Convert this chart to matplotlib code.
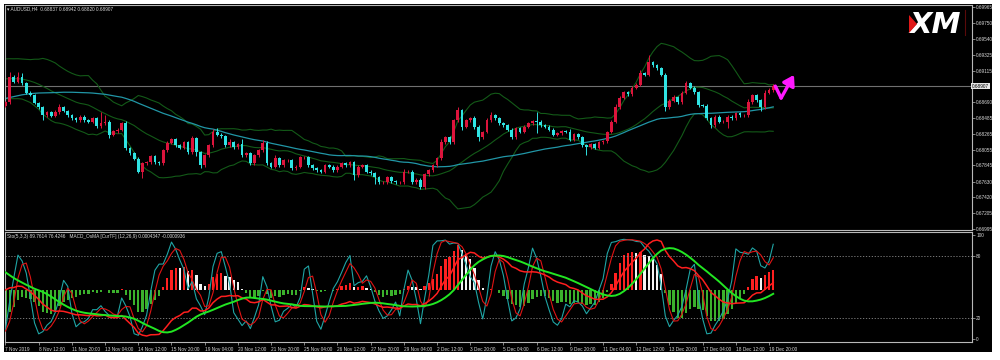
import numpy as np
import pandas as pd
import matplotlib
matplotlib.use("Agg")
import matplotlib.pyplot as plt
from matplotlib.patches import Rectangle, Polygon
from matplotlib.lines import Line2D

# ---------------- data ----------------
symbol = "AUDUSD,H4"
header_ohlc = ["0.68837", "0.68942", "0.68820", "0.68907"]

# closes before the visible window (only feed the indicators)
prior_closes = [
    0.68346, 0.68373, 0.68360, 0.68400, 0.68386, 0.68427, 0.68400, 0.68453, 0.68427, 0.68467,
    0.68440, 0.68480, 0.68453, 0.68507, 0.68480, 0.68520, 0.68494, 0.68547, 0.68520, 0.68560,
    0.68587, 0.68641, 0.68627, 0.68694, 0.68721, 0.68761, 0.68788, 0.68828, 0.68855, 0.68895,
    0.68922, 0.68962, 0.68989, 0.69015, 0.69042, 0.69069, 0.69082, 0.69056, 0.69096, 0.69069,
    0.69122, 0.69149, 0.69096, 0.69122, 0.69069, 0.69042, 0.68989, 0.68935, 0.68828, 0.68641,
]
prior_upper_wick = [2, 2, 2, 2, 2, 2, 2, 2, 2, 2, 2, 2, 2, 2, 2, 2, 2, 2, 2, 2, 2, 2, 2, 2, 2,
                    2, 2, 2, 2, 2, 2, 2, 2, 2, 2, 2, 2, 2, 2, 2, 2, 2, 2, 2, 2, 2, 2, 2, 2, 2]
prior_lower_wick = [2, 2, 2, 2, 2, 2, 2, 2, 2, 2, 2, 2, 2, 2, 2, 2, 2, 2, 2, 2, 2, 2, 2, 2, 2,
                    2, 2, 2, 2, 2, 2, 2, 2, 2, 2, 2, 2, 2, 2, 2, 2, 2, 2, 2, 2, 2, 2, 2, 2, 2]

# visible H4 closes, 7 Nov 2019 -> 19 Dec 2019
closes = [
    0.68694, 0.69029, 0.68962, 0.69029, 0.68948, 0.68815, 0.68788, 0.68681, 0.68627, 0.68520,
    0.68560, 0.68507, 0.68560, 0.68627, 0.68574, 0.68520, 0.68480, 0.68453, 0.68494, 0.68453,
    0.68427, 0.68480, 0.68373, 0.68413, 0.68427, 0.68253, 0.68306, 0.68320, 0.68413, 0.68079,
    0.68012, 0.67932, 0.67758, 0.67878, 0.67891, 0.67972, 0.67891, 0.67878, 0.68052, 0.68146,
    0.68199, 0.68119, 0.68079, 0.68159, 0.68025, 0.68212, 0.68025, 0.67851, 0.67985, 0.68119,
    0.68293, 0.68253, 0.68239, 0.68119, 0.68159, 0.68092, 0.68132, 0.67985, 0.68012, 0.67878,
    0.67985, 0.68052, 0.68146, 0.67878, 0.67825, 0.67945, 0.67851, 0.67918, 0.67918, 0.67811,
    0.67825, 0.67958, 0.67958, 0.67851, 0.67811, 0.67784, 0.67758, 0.67851, 0.67825, 0.67784,
    0.67825, 0.67878, 0.67851, 0.67891, 0.67717, 0.67825, 0.67851, 0.67758, 0.67744, 0.67691,
    0.67624, 0.67624, 0.67691, 0.67637, 0.67624, 0.67624, 0.67758, 0.67758, 0.67624, 0.67651,
    0.67557, 0.67731, 0.67784, 0.67851, 0.67945, 0.68159, 0.68226, 0.68159, 0.68453, 0.68587,
    0.68360, 0.68453, 0.68480, 0.68360, 0.68226, 0.68293, 0.68453, 0.68520, 0.68480, 0.68413,
    0.68386, 0.68320, 0.68226, 0.68346, 0.68293, 0.68360, 0.68413, 0.68440, 0.68427, 0.68386,
    0.68360, 0.68320, 0.68253, 0.68279, 0.68306, 0.68293, 0.68186, 0.68266, 0.68226, 0.68119,
    0.68092, 0.68132, 0.68079, 0.68159, 0.68172, 0.68293, 0.68427, 0.68627, 0.68748, 0.68828,
    0.68801, 0.68882, 0.68922, 0.69082, 0.69056, 0.69229, 0.69189, 0.69149, 0.69056, 0.68627,
    0.68708, 0.68761, 0.68694, 0.68815, 0.68948, 0.68882, 0.68828, 0.68654, 0.68641, 0.68480,
    0.68386, 0.68494, 0.68427, 0.68427, 0.68494, 0.68480, 0.68547, 0.68520, 0.68520, 0.68694,
    0.68788, 0.68721, 0.68627, 0.68815, 0.68855, 0.68907,
]
# wick lengths in 0.0001
upper_wick = [
    2, 7, 3, 6, 5, 2, 2, 2, 2, 2,   2, 2, 3, 4, 2, 2, 2, 2, 2, 2,
    2, 2, 2, 15, 10, 2, 2, 2, 2, 3,  2, 2, 2, 2, 2, 2, 2, 2, 2, 2,
    2, 2, 2, 2, 2, 3, 2, 2, 2, 2,   4, 6, 2, 2, 4, 2, 2, 7, 2, 2,
    2, 2, 4, 2, 2, 4, 2, 2, 2, 2,   2, 2, 2, 2, 2, 2, 2, 2, 2, 2,
    2, 2, 2, 2, 2, 2, 2, 2, 2, 2,   2, 2, 2, 2, 2, 2, 4, 2, 2, 2,
    2, 2, 2, 2, 2, 4, 2, 2, 2, 4,   2, 2, 2, 3, 2, 2, 3, 4, 2, 2,
    2, 2, 2, 2, 2, 2, 2, 2, 12, 2,  2, 2, 2, 2, 2, 2, 4, 2, 2, 2,
    2, 2, 2, 2, 2, 2, 2, 4, 2, 2,   2, 2, 2, 4, 2, 9, 2, 2, 2, 2,
    2, 3, 2, 2, 3, 2, 2, 2, 2, 2,   2, 2, 2, 2, 2, 2, 2, 2, 2, 4,
    2, 2, 2, 4, 2, 3,
]
lower_wick = [
    2, 2, 2, 2, 2, 2, 2, 2, 2, 6,   2, 2, 2, 2, 2, 2, 2, 2, 2, 2,
    2, 2, 2, 2, 2, 4, 2, 2, 2, 3,   2, 2, 2, 8, 2, 2, 2, 2, 2, 2,
    2, 2, 2, 2, 2, 2, 5, 4, 2, 2,   2, 2, 2, 2, 2, 2, 2, 2, 2, 2,
    2, 2, 2, 2, 2, 2, 2, 2, 2, 2,   2, 2, 2, 2, 2, 2, 2, 2, 2, 2,
    2, 2, 2, 2, 6, 2, 2, 2, 2, 10,  2, 2, 2, 2, 2, 2, 2, 2, 2, 2,
    3, 2, 2, 2, 2, 2, 2, 2, 2, 2,   4, 2, 2, 3, 5, 2, 2, 2, 2, 2,
    2, 2, 2, 2, 2, 2, 2, 2, 15, 2,  2, 2, 2, 2, 2, 2, 2, 2, 2, 2,
    10, 2, 2, 2, 2, 2, 2, 2, 2, 2,  2, 2, 2, 2, 2, 2, 2, 2, 2, 5,
    2, 2, 2, 2, 2, 2, 2, 2, 2, 2,   4, 2, 2, 2, 8, 2, 3, 2, 2, 2,
    2, 2, 5, 2, 2, 3,
]

time_labels = ["7 Nov 2019", "8 Nov 12:00", "11 Nov 20:00", "13 Nov 04:00", "14 Nov 12:00",
               "15 Nov 20:00", "19 Nov 04:00", "20 Nov 12:00", "21 Nov 20:00", "25 Nov 04:00",
               "26 Nov 12:00", "27 Nov 20:00", "29 Nov 04:00", "2 Dec 12:00", "3 Dec 20:00",
               "5 Dec 04:00", "6 Dec 12:00", "9 Dec 20:00", "11 Dec 04:00", "12 Dec 12:00",
               "13 Dec 20:00", "17 Dec 04:00", "18 Dec 12:00", "19 Dec 20:00"]
label_step = 8
price_ticks = [0.69965, 0.69750, 0.69540, 0.69325, 0.69115, 0.68690, 0.68485, 0.68265,
               0.68055, 0.67845, 0.67630, 0.67420, 0.67205, 0.66995]
stoch_ticks = [100, 80, 20, 0]
stoch_levels = [80, 20]
stoch_header = "Sto(5,3,3) 89.7614 76.4246   MACD_OsMA [CurTF] (12,26,9) 0.0004347 -0.0000936"

# ---------------- computations ----------------
n_prior = len(prior_closes)
c_all = pd.Series(prior_closes + closes)
o_all = c_all.shift(1).fillna(c_all.iloc[0])
uw_all = pd.Series(prior_upper_wick + upper_wick) * 1e-4
lw_all = pd.Series(prior_lower_wick + lower_wick) * 1e-4
h_all = np.maximum(o_all, c_all) + uw_all
l_all = np.minimum(o_all, c_all) - lw_all
x_all = np.arange(len(c_all)) - n_prior

ma50 = c_all.rolling(50, min_periods=1).mean()
bb_mid = c_all.rolling(20, min_periods=1).mean()
bb_std = c_all.rolling(20, min_periods=2).std(ddof=0)
bb_up = bb_mid + 2 * bb_std
bb_lo = bb_mid - 2 * bb_std

hh = h_all.rolling(5).max()
ll = l_all.rolling(5).min()
stoch_k = (c_all - ll).rolling(3).sum() / (hh - ll).rolling(3).sum() * 100
stoch_d = stoch_k.rolling(3).mean()

ema12 = c_all.ewm(span=12, adjust=False).mean()
ema26 = c_all.ewm(span=26, adjust=False).mean()
macd = ema12 - ema26
signal = macd.rolling(9).mean()
osma = macd - signal

vis = x_all >= 0
n = len(closes)

# ---------------- figure ----------------
W, H = 1000, 360
fig = plt.figure(figsize=(10, 3.6), dpi=100, facecolor="white")
fig.patches.append(Rectangle((4 / W, 1 - 352 / H), 988 / W, 348 / H, transform=fig.transFigure,
                             facecolor="black", edgecolor="none", zorder=-10))

FONT = ["Liberation Sans", "DejaVu Sans"]
TXT = "#d8d8d8"
FRAME = "#b8b8b8"
FS = 3.4

def rect(top, bottom):
    return [5 / W, 1 - bottom / H, 967 / W, (bottom - top) / H]

xlim = (-0.12, 232.9)

# main price panel
ax = fig.add_axes(rect(5, 230))
ax.set_facecolor("black")
ax.set_xlim(*xlim)
ax.set_ylim(0.66982, 0.69992)
for s in ax.spines.values():
    s.set_color(FRAME)
    s.set_linewidth(0.8)

ax.plot(x_all[vis], bb_up[vis], color="#135a18", lw=0.8, zorder=2)
ax.plot(x_all[vis], bb_mid[vis], color="#135a18", lw=0.8, zorder=2)
ax.plot(x_all[vis], bb_lo[vis], color="#135a18", lw=0.8, zorder=2)
ax.plot(x_all[vis], ma50[vis], color="#2196a6", lw=0.9, zorder=2)
ax.axhline(closes[-1], color="#707070", lw=0.8, zorder=1)

bull_c, bear_c = "#dc143c", "#2fe3e3"
bw = 0.66
for xi, o, c, hi, lo in zip(x_all[vis], o_all[vis], c_all[vis], h_all[vis], l_all[vis]):
    col = bull_c if c >= o else bear_c
    ax.vlines(xi, lo, hi, color=col, lw=0.7, zorder=3)
    bottom = min(o, c)
    height = max(abs(c - o), 0.00005)
    ax.add_patch(Rectangle((xi - bw / 2, bottom), bw, height, facecolor=col, edgecolor="none", zorder=4))

# magenta forecast arrow anchored on the last bar
last_x, last_c = n - 1, closes[-1]
ax.plot([last_x + 0.5, last_x + 1.9], [last_c, last_c - 0.0016], color="#ff19ff", lw=2.4,
        solid_capstyle="round", zorder=6)
ax.annotate("", xy=(last_x + 5.0, last_c + 0.0015), xytext=(last_x + 1.9, last_c - 0.0016),
            arrowprops=dict(arrowstyle="-|>,head_length=0.6,head_width=0.38", color="#ff19ff",
                            lw=2.4, shrinkA=0, shrinkB=0),
            zorder=6)

ax.set_xticks([])
ax.yaxis.tick_right()
ax.set_yticks(price_ticks)
ax.set_yticklabels([f"{p:.5f}" for p in price_ticks], fontsize=FS, color=TXT, family=FONT)
ax.tick_params(axis="y", length=2, width=0.5, color=FRAME, pad=1)
ax.text(1.0, last_c, f"{last_c:.5f}", transform=ax.get_yaxis_transform(), fontsize=FS,
        family=FONT, color="black", va="center", ha="left",
        bbox=dict(boxstyle="square,pad=0.15", facecolor="#e8e8e8", edgecolor="none"))

fig.text(7 / W, 1 - 9 / H, "\u25be " + symbol + "  " + " ".join(header_ohlc), fontsize=FS,
         color=TXT, family=FONT, va="center", ha="left")

# XM logo
fig.text(935 / W, 1 - 25 / H, "XM", fontsize=21, fontweight="bold", style="italic",
         color="white", ha="center", va="center", family="DejaVu Sans")
fig.patches.append(Polygon([(909 / W, 1 - 15 / H), (917 / W, 1 - 24 / H), (909 / W, 1 - 33 / H)],
                           closed=True, transform=fig.transFigure, facecolor="#e01818",
                           edgecolor="none", zorder=5))
fig.lines.append(Line2D([965 / W, 965 / W], [1 - 10 / H, 1 - 35 / H], transform=fig.transFigure,
                        color="#5a0a0a", lw=0.8))

# lower panel: histogram axis (bottom), stochastic axis, MACD lines axis
prect = rect(232, 342)
axh = fig.add_axes(prect)
axh.set_facecolor("black")
axh.set_xlim(*xlim)
axh.axis("off")
os_v = osma[vis].values
os_prev = osma.shift(1)[vis].values
hcols = []
for v, p in zip(os_v, os_prev):
    if v >= 0:
        hcols.append("#ff2020" if v >= p else "#f4f4f4")
    else:
        hcols.append("#3bb12c")
axh.bar(x_all[vis], os_v, width=0.55, color=hcols, linewidth=0)
pos_max = np.nanmax(os_v)
zero_frac, top_frac = (342 - 290) / 110, (342 - 245) / 110
scale = pos_max / (top_frac - zero_frac)
axh.set_ylim(-zero_frac * scale, (1 - zero_frac) * scale)

ax2 = fig.add_axes(prect, sharex=axh)
ax2.set_facecolor("none")
ax2.set_ylim(-2.9, 102.9)
for s in ax2.spines.values():
    s.set_color(FRAME)
    s.set_linewidth(0.8)
for lv in stoch_levels:
    ax2.axhline(lv, color="#8a8a8a", lw=0.6, ls=(0, (1.5, 2)), zorder=1)
ax2.plot(x_all[vis], stoch_k[vis], color="#1fa5a5", lw=0.8, zorder=3)
ax2.plot(x_all[vis], stoch_d[vis], color="#e01414", lw=0.8, zorder=3)
ax2.yaxis.tick_right()
ax2.set_yticks(stoch_ticks)
ax2.set_yticklabels([str(t) for t in stoch_ticks], fontsize=FS, color=TXT, family=FONT)
ax2.tick_params(axis="y", length=2, width=0.5, color=FRAME, pad=1)
tick_pos = np.arange(len(time_labels)) * label_step
ax2.set_xticks(tick_pos)
ax2.set_xticklabels(time_labels, fontsize=FS, color=TXT, family=FONT, ha="left")
ax2.tick_params(axis="x", length=2, width=0.5, color=FRAME, pad=1.5)
ax2.text(0.002, 0.985, stoch_header, transform=ax2.transAxes, fontsize=FS, color=TXT,
         family=FONT, va="top", ha="left")

axm = fig.add_axes(prect, sharex=axh)
axm.set_facecolor("none")
axm.axis("off")
mv, sv = macd[vis].values, signal[vis].values
axm.plot(x_all[vis], mv, color="#ff1e1e", lw=1.1, zorder=4)
axm.plot(x_all[vis], sv, color="#22e622", lw=1.4, zorder=4)
lo_v = np.nanmin(np.concatenate([mv, sv]))
hi_v = np.nanmax(np.concatenate([mv, sv]))
f_lo, f_hi = (342 - 336) / 110, (342 - 240) / 110
span = (hi_v - lo_v) / (f_hi - f_lo)
axm.set_ylim(lo_v - f_lo * span, lo_v - f_lo * span + span)

fig.savefig("out.png", dpi=100, facecolor="white")
